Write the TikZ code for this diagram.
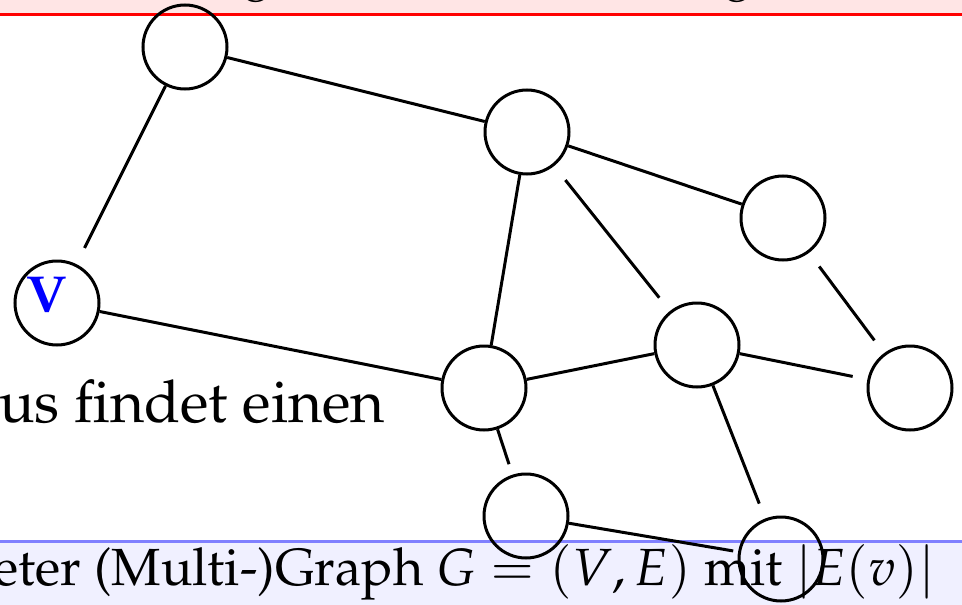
\documentclass[tikz,border=0pt]{standalone}
\usepackage[T1]{fontenc}
\usepackage{mathpazo}
\begin{document}
\begin{tikzpicture}[x=1pt,y=-1pt,
  gnode/.style={circle,draw,line width=3pt,minimum size=84pt,inner sep=0pt},
  edge/.style={line width=3pt},
  bigtext/.style={inner sep=0pt,font=\fontsize{59}{70}\selectfont},
  bartext/.style={inner sep=0pt,font=\fontsize{52.3}{60}\selectfont}]
\useasboundingbox (0,0) rectangle (962,605);
\clip (0,0) rectangle (962,605);
% top bar
\fill[red!10] (0,0) rectangle (962,14.5);
\draw[red,line width=2.6pt] (0,14.5) -- (962,14.5);
\node[anchor=base,inner sep=0pt,font=\fontsize{50}{60}\selectfont] (t1) at (257,-12) {g};
\node[anchor=base,inner sep=0pt,font=\fontsize{50}{60}\selectfont] (t2) at (738,-12) {g};
% bottom bar
\fill[blue!6] (0,541.5) rectangle (962,605);
\draw[blue!50,line width=2.6pt] (0,541.5) -- (962,541.5);
\node[bartext,anchor=base east] (btxt) at (935,585) {eter (Multi-)Graph $G=(V,E)$ mit $|E(v)|$};
% left text
\node[bigtext,anchor=base west] (ltxt) at (-1,422) {us findet einen};
% graph
\node[gnode] (a) at (185,47) {};
\node[gnode] (b) at (527,132) {};
\node[gnode] (c) at (783,218) {};
\node[gnode] (v) at (57,303) {};
\node[gnode] (d) at (697,345) {};
\node[gnode] (e) at (484,388) {};
\node[gnode] (f) at (910,388) {};
\node[gnode] (g) at (526,516) {};
\node[gnode] (h) at (781,559) {};
\node[anchor=base,inner sep=0pt,text=blue,font=\fontsize{52}{60}\selectfont] (vlab) at (47,312) {\textbf{V}};
\draw[edge,shorten >=18pt] (a) -- (v);
\draw[edge] (a) -- (b);
\draw[edge] (b) -- (c);
\draw[edge] (b) -- (e);
\draw[edge,shorten <=18pt,shorten >=17pt] (b) -- (d);
\draw[edge,shorten <=17pt,shorten >=16pt] (c) -- (f);
\draw[edge] (v) -- (e);
\draw[edge] (e) -- (d);
\draw[edge,shorten >=15pt] (d) -- (f);
\draw[edge,shorten >=11pt] (e) -- (g);
\draw[edge,shorten >=16pt] (d) -- (h);
\draw[edge,shorten >=5pt] (g) -- (h);
\end{tikzpicture}
\end{document}
